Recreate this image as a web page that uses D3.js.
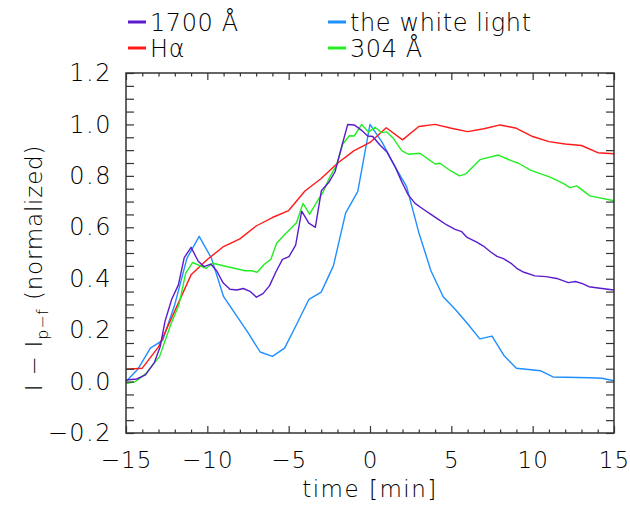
<!DOCTYPE html>
<html>
<head>
<meta charset="utf-8">
<script src="https://cdn.jsdelivr.net/npm/d3@7"></script>
<style>
  html, body { margin: 0; padding: 0; background: #fff; }
  svg { display: block; }
  text { font-family: "DejaVu Sans", sans-serif; font-weight: 200; fill: #000; }
</style>
</head>
<body>
<svg id="chart" width="630" height="506"></svg>
<script>
// ---- data (time in minutes, normalized intensity) ----
const purpleT = [-15.0,-14.34,-13.8,-13.25,-12.9,-12.6,-12.19,-11.78,-11.42,-11.0,-10.56,-10.2,-9.79,-9.42,-9.02,-8.61,-8.19,-7.79,-7.38,-6.98,-6.58,-6.18,-5.78,-5.38,-4.98,-4.57,-4.2,-3.76,-3.36,-2.99,-2.53,-2.15,-1.74,-1.37,-0.97,-0.55,-0.14,0.17,0.61,1.03,1.54,1.95,2.35,2.77,3.28,3.79,4.2,4.72,5.23,5.64,5.94,6.56,6.97,7.44,7.81,8.2,8.67,9.07,9.47,10.14,10.82,11.48,12.19,12.63,13.06,13.46,14.14,15.0];
const purpleV = [0.006,0.01,0.026,0.075,0.135,0.235,0.32,0.376,0.482,0.522,0.468,0.447,0.457,0.43,0.383,0.359,0.356,0.362,0.351,0.328,0.342,0.372,0.427,0.475,0.486,0.531,0.663,0.616,0.6,0.742,0.775,0.816,0.914,1.0,0.998,0.979,0.955,0.953,0.92,0.894,0.836,0.777,0.726,0.693,0.67,0.648,0.631,0.609,0.592,0.583,0.562,0.542,0.527,0.503,0.487,0.478,0.46,0.438,0.425,0.411,0.408,0.401,0.385,0.389,0.381,0.369,0.363,0.356];

const redT = [-15,-14,-13,-12,-11,-10,-9,-8,-7,-6,-5,-4,-3,-2,-1,0,1,2,3,4,5,6,7,8,9,10,11,12,13,14,15];
const redV = [0.048,0.052,0.135,0.275,0.415,0.475,0.525,0.555,0.605,0.638,0.665,0.741,0.79,0.849,0.897,0.93,0.987,0.94,0.992,1.0,0.985,0.972,0.983,0.998,0.985,0.953,0.933,0.924,0.918,0.89,0.886];

const blueT = [-15,-14.25,-13.5,-12.75,-12,-11.25,-10.5,-9.75,-9,-8.25,-7.5,-6.75,-6,-5.25,-4.5,-3.75,-3,-2.25,-1.5,-0.75,0,0.75,1.5,2.25,3,3.75,4.5,5.25,6,6.75,7.5,8.25,9,9.75,10.5,11.25,12,12.75,13.5,14.25,15];
const blueV = [0.0,0.05,0.13,0.16,0.30,0.48,0.565,0.48,0.33,0.26,0.19,0.115,0.098,0.13,0.224,0.32,0.348,0.45,0.655,0.74,1.0,0.93,0.84,0.758,0.58,0.43,0.33,0.28,0.225,0.166,0.177,0.10,0.052,0.047,0.042,0.018,0.017,0.016,0.015,0.013,0.003];

const greenT = [-15.0,-14.42,-13.77,-12.94,-12.26,-11.74,-11.33,-10.91,-10.08,-9.68,-7.68,-7.27,-6.93,-6.5,-6.1,-5.74,-5.33,-4.92,-4.52,-4.12,-3.71,-3.32,-2.87,-2.46,-2.05,-1.68,-1.27,-0.97,-0.51,-0.1,0.31,0.72,1.03,1.43,1.95,2.35,3.07,3.58,4.0,4.3,4.92,5.5,5.9,6.76,7.89,8.76,9.12,9.9,11.07,11.88,12.29,12.71,13.52,15.0];
const greenV = [-0.008,0.0,0.032,0.097,0.22,0.30,0.422,0.463,0.44,0.46,0.431,0.431,0.425,0.456,0.475,0.538,0.566,0.592,0.618,0.693,0.651,0.693,0.739,0.797,0.842,0.923,0.956,0.955,1.0,0.97,0.989,0.968,0.971,0.946,0.898,0.884,0.888,0.865,0.846,0.849,0.821,0.80,0.808,0.863,0.881,0.857,0.849,0.821,0.795,0.771,0.754,0.761,0.722,0.703];

const xMajor = [-15,-10,-5,0,5,10,15];
const yMajor = [-0.2,0.0,0.2,0.4,0.6,0.8,1.0,1.2];

const seriesNames = ["1700 Å", "Hα", "the white light", "304 Å"];
const seriesColors = ["#5b1ccc", "#ff1a1a", "#1e8fff", "#22ee22"];

// ---- layout ----
const svg = d3.select("#chart");
const L = 126, R = 614, T = 73, B = 433;
const x = d3.scaleLinear().domain([-15, 15]).range([L, R]);
const y = d3.scaleLinear().domain([-0.2, 1.2]).range([B, T]);

const xMinor = d3.range(-15, 15.001, 1).filter(v => !xMajor.includes(v));
const yAll = d3.range(-0.2, 1.2001, 0.05).map(v => +v.toFixed(2));

// series
const series = [
  {t: purpleT, v: purpleV, c: seriesColors[0]},
  {t: redT, v: redV, c: seriesColors[1]},
  {t: blueT, v: blueV, c: seriesColors[2]},
  {t: greenT, v: greenV, c: seriesColors[3]},
];
const line = d3.line().x(d => x(d[0])).y(d => y(d[1]));
const drawOrder = [2, 1, 3, 0];
drawOrder.forEach(i => {
  const s = series[i];
  svg.append("path")
    .datum(s.t.map((t, k) => [t, s.v[k]]))
    .attr("d", line)
    .attr("fill", "none")
    .attr("stroke", s.c)
    .attr("stroke-width", 1.4)
    .attr("stroke-linejoin", "round");
});

// axes (ticks inside)
const axisColor = "#333";
function styleAxis(g) {
  g.select(".domain").remove();
  g.selectAll(".tick line").attr("stroke", axisColor).attr("stroke-width", 1.2);
  g.selectAll(".tick text").style("font-family", '"DejaVu Sans", sans-serif')
    .style("font-weight", 200).attr("fill", "#000");
}
// bottom major
svg.append("g").attr("transform", `translate(0,${B})`)
  .call(d3.axisBottom(x).tickValues(xMajor).tickSize(-7).tickPadding(19).tickFormat(d3.format("d")))
  .call(styleAxis)
  .call(g => g.selectAll(".tick text").attr("font-size", 23).attr("letter-spacing", 1));
svg.append("g").attr("transform", `translate(0,${B})`)
  .call(d3.axisBottom(x).tickValues(xMinor).tickSize(-3.5).tickFormat(""))
  .call(styleAxis);
// top
svg.append("g").attr("transform", `translate(0,${T})`)
  .call(d3.axisTop(x).tickValues(xMajor).tickSize(-7).tickFormat(""))
  .call(styleAxis);
svg.append("g").attr("transform", `translate(0,${T})`)
  .call(d3.axisTop(x).tickValues(xMinor).tickSize(-3.5).tickFormat(""))
  .call(styleAxis);
// left
svg.append("g").attr("transform", `translate(${L},0)`)
  .call(d3.axisLeft(y).tickValues(yAll).tickSize(-8).tickPadding(14)
    .tickFormat(d => yMajor.some(m => Math.abs(m - d) < 1e-6) ? d3.format(".1f")(d) : ""))
  .call(styleAxis)
  .call(g => g.selectAll(".tick text").attr("font-size", 24).attr("letter-spacing", 1.5));
// right
svg.append("g").attr("transform", `translate(${R},0)`)
  .call(d3.axisRight(y).tickValues(yAll).tickSize(-8).tickFormat(""))
  .call(styleAxis);

// frame
svg.append("rect").attr("x", L).attr("y", T).attr("width", R - L).attr("height", B - T)
  .attr("fill", "none").attr("stroke", axisColor).attr("stroke-width", 1.5);

// axis titles
svg.append("text").attr("x", (L + R) / 2).attr("y", 497).attr("text-anchor", "middle")
  .attr("font-size", 23).attr("letter-spacing", 1.5).text("time [min]");

const yt = svg.append("text").attr("transform", "translate(42,268) rotate(-90)")
  .attr("text-anchor", "middle").attr("font-size", 23).attr("letter-spacing", 0.8);
yt.append("tspan").text("I − I");
yt.append("tspan").attr("dy", 6).attr("font-size", 16).text("p−f");
yt.append("tspan").attr("dy", -6).text(" (normalized)");

// legend
const legPos = [[128, 22], [128, 48], [328, 22], [328, 48]];
seriesNames.forEach((name, i) => {
  const [lx, ly] = legPos[i];
  svg.append("line").attr("x1", lx).attr("x2", lx + 18).attr("y1", ly).attr("y2", ly)
    .attr("stroke", seriesColors[i]).attr("stroke-width", 3);
  svg.append("text").attr("x", lx + 22).attr("y", ly + 9).attr("font-size", 24)
    .attr("letter-spacing", 0.6).text(name);
});
</script>
</body>
</html>
